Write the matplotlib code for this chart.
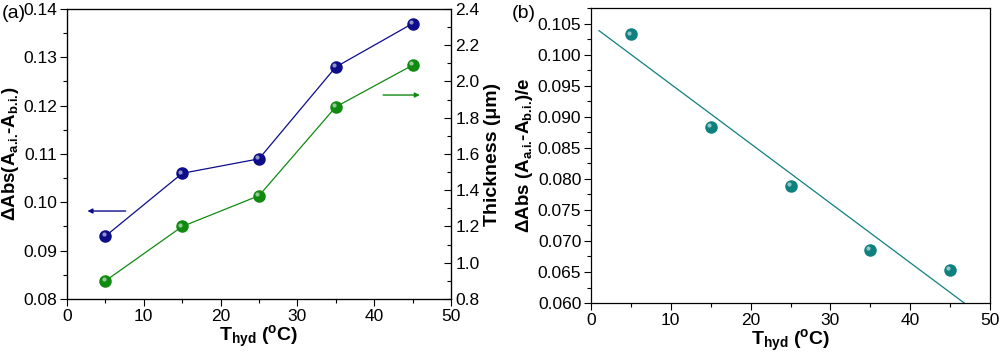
import matplotlib
matplotlib.use("Agg")
import matplotlib.pyplot as plt
import numpy as np
from matplotlib.ticker import MultipleLocator

plt.rcParams['font.family'] = ['Liberation Sans', 'DejaVu Sans']
plt.rcParams['mathtext.fontset'] = 'custom'
plt.rcParams['mathtext.rm'] = 'Liberation Sans:bold'
plt.rcParams['mathtext.bf'] = 'Liberation Sans:bold'
plt.rcParams['mathtext.it'] = 'Liberation Sans:italic'

# Data
t_hyd = [5, 15, 25, 35, 45]
delta_abs = [0.093, 0.106, 0.109, 0.128, 0.137]
thickness = [0.90, 1.20, 1.37, 1.86, 2.09]
delta_abs_norm = [0.1033, 0.0884, 0.0789, 0.0685, 0.0653]

BLUE = '#0d0d8a'
GREEN = '#118a11'
TEAL = '#0e8080'

fig = plt.figure(figsize=(10, 3.53), dpi=100)
axA = fig.add_axes([0.067, 0.153, 0.384, 0.8215])
axB = fig.add_axes([0.591, 0.1416, 0.399, 0.835])

def sphere(ax, x, y, color, line=True):
    if line:
        ax.plot(x, y, '-', color=color, lw=0.9, zorder=2)
    ax.plot(x, y, 'o', ms=8, color=color, mec=color, zorder=3, clip_on=False)
    # highlight for a spherical look
    ax.plot(x, y, 'o', ms=3, color='white', alpha=0.55, mec='none', zorder=4,
            clip_on=False, transform=ax.transData +
            matplotlib.transforms.ScaledTranslation(-1.3/72, 1.3/72, fig.dpi_scale_trans))

def style(ax):
    ax.tick_params(axis='both', which='major', direction='out', length=5, width=0.8,
                   labelsize=12.5, pad=2)
    ax.tick_params(axis='both', which='minor', direction='out', length=3, width=0.8)
    for s in ax.spines.values():
        s.set_linewidth(0.9)

XLABEL = r'T$_{\text{hyd}}$ ($^{\text{o}}$C)'

# Panel (a)
sphere(axA, t_hyd, delta_abs, BLUE)
axA.set_xlim(0, 50)
axA.set_ylim(0.08, 0.14)
axA.xaxis.set_major_locator(MultipleLocator(10))
axA.xaxis.set_minor_locator(MultipleLocator(5))
axA.yaxis.set_major_locator(MultipleLocator(0.01))
axA.yaxis.set_minor_locator(MultipleLocator(0.005))
axA.yaxis.set_major_formatter(matplotlib.ticker.FormatStrFormatter('%.2f'))
style(axA)
axA.set_xlabel(XLABEL, fontsize=14, fontweight='bold', labelpad=0)
axA.set_ylabel(r'$\Delta$Abs(A$_{\text{a.i.}}$-A$_{\text{b.i.}}$)', fontsize=13.5,
               fontweight='bold', labelpad=2)

axA2 = axA.twinx()
sphere(axA2, t_hyd, thickness, GREEN)
axA2.set_ylim(0.8, 2.4)
axA2.yaxis.set_major_locator(MultipleLocator(0.2))
axA2.yaxis.set_minor_locator(MultipleLocator(0.1))
axA2.yaxis.set_major_formatter(matplotlib.ticker.FormatStrFormatter('%.1f'))
axA2.tick_params(axis='y', which='major', direction='in', length=5, width=0.8, labelsize=12.5, pad=3)
axA2.tick_params(axis='y', which='minor', direction='in', length=3, width=0.8)
axA2.set_ylabel('Thickness (μm)', fontsize=14, fontweight='bold', labelpad=3)

# arrows indicating the axes
axA.annotate('', xy=(2.3, 0.0982), xytext=(8.0, 0.0982),
             arrowprops=dict(arrowstyle='-|>', color=BLUE, lw=1.0, mutation_scale=7))
axA.annotate('', xy=(46.3, 0.1222), xytext=(40.8, 0.1222),
             arrowprops=dict(arrowstyle='-|>', color=GREEN, lw=1.0, mutation_scale=7))

fig.text(0.002, 0.962, '(a)', fontsize=14, va='center', ha='left')

# Panel (b)
coef = np.polyfit(t_hyd, delta_abs_norm, 1)
xfit = np.linspace(1, 50, 100)
axB.plot(xfit, np.polyval(coef, xfit), '-', color=TEAL, lw=0.9, zorder=2)
sphere(axB, t_hyd, delta_abs_norm, TEAL, line=False)
axB.set_xlim(0, 50)
axB.set_ylim(0.06, 0.1075)
axB.xaxis.set_major_locator(MultipleLocator(10))
axB.xaxis.set_minor_locator(MultipleLocator(5))
axB.yaxis.set_major_locator(MultipleLocator(0.005))
axB.yaxis.set_minor_locator(MultipleLocator(0.0025))
axB.yaxis.set_major_formatter(matplotlib.ticker.FormatStrFormatter('%.3f'))
style(axB)
axB.set_xlabel(XLABEL, fontsize=14, fontweight='bold', labelpad=0)
axB.set_ylabel(r'$\Delta$Abs (A$_{\text{a.i.}}$-A$_{\text{b.i.}}$)/e', fontsize=13.5,
               fontweight='bold', labelpad=2)

fig.text(0.512, 0.962, '(b)', fontsize=14, va='center', ha='left')

fig.savefig('out.png', dpi=100)
